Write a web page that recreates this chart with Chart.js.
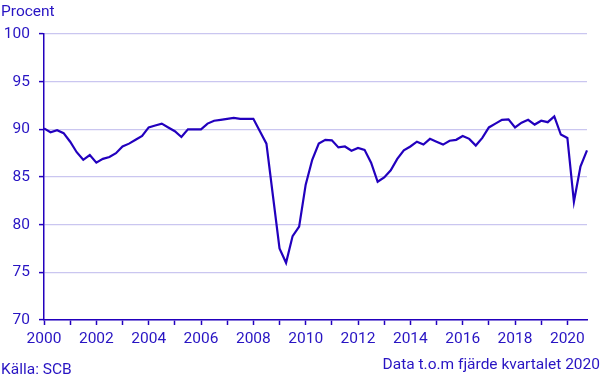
<!DOCTYPE html>
<html>
<head>
<meta charset="utf-8">
<script src="https://cdn.jsdelivr.net/npm/chart.js@4"></script>
<style>
  body { margin: 0; background: #fff; }
</style>
</head>
<body>
<canvas id="chart" width="612" height="378"></canvas>
<script>
// quarterly values, 2000 K1 .. 2020 K4
var firstYear = 2000;
var lastYear = 2020;
var values = [
  90.1, 89.7, 89.9, 89.6, 88.7, 87.6, 86.8, 87.3,
  86.5, 86.9, 87.1, 87.5, 88.2, 88.5, 88.9, 89.3,
  90.2, 90.4, 90.6, 90.2, 89.8, 89.2, 90.0, 90.0,
  90.0, 90.6, 90.9, 91.0, 91.1, 91.2, 91.1, 91.1,
  91.1, 89.8, 88.5, 83.0, 77.5, 76.0, 78.8, 79.8,
  84.2, 86.8, 88.5, 88.9, 88.85, 88.1, 88.2, 87.75,
  88.05, 87.85, 86.5, 84.5, 84.95, 85.7, 86.9, 87.8,
  88.2, 88.7, 88.4, 89.0, 88.7, 88.4, 88.8, 88.9,
  89.3, 89.0, 88.3, 89.1, 90.2, 90.6, 91.0, 91.05,
  90.2, 90.7, 91.0, 90.5, 90.9, 90.75, 91.35, 89.45,
  89.1, 82.4, 86.1, 87.8
];
var yTicks = [70, 75, 80, 85, 90, 95, 100];

var quarters = [];
for (var y = firstYear; y <= lastYear; y++) {
  for (var q = 1; q <= 4; q++) quarters.push(y + 'K' + q);
}

var blue = 'rgb(34,0,190)';
var textBlue = 'rgb(40,20,195)';
var gridCol = 'rgb(202,198,240)';
var font = { family: 'Roboto', size: 15.5 };

var captions = {
  id: 'captions',
  afterDraw: function(chart) {
    var ctx = chart.ctx;
    ctx.save();
    ctx.fillStyle = textBlue;
    ctx.font = '15.5px Roboto';
    ctx.textBaseline = 'alphabetic';
    ctx.textAlign = 'left';
    ctx.fillText('Procent', 1, 16);
    ctx.fillText('Källa: SCB', 1, 374);
    ctx.textAlign = 'right';
    ctx.fillText('Data t.o.m fjärde kvartalet 2020', 600, 369);
    ctx.restore();
  }
};

new Chart(document.getElementById('chart'), {
  type: 'line',
  data: {
    labels: quarters,
    datasets: [{
      data: values,
      borderColor: blue,
      borderWidth: 2.2,
      pointRadius: 0,
      tension: 0,
      fill: false
    }]
  },
  options: {
    responsive: false,
    devicePixelRatio: 1,
    animation: false,
    layout: { padding: { top: 34, left: 0, right: 25, bottom: 28 } },
    plugins: { legend: { display: false }, tooltip: { enabled: false } },
    scales: {
      x: {
        type: 'category',
        offset: false,
        afterBuildTicks: function(scale) {
          scale.ticks = scale.ticks.filter(function(t) { return t.value % 4 === 0; });
        },
        afterFit: function(scale) { scale.height = 30; },
        grid: { drawOnChartArea: false, tickLength: 5, tickColor: blue, tickWidth: 1.5 },
        border: { color: blue, width: 1.5 },
        ticks: {
          autoSkip: false,
          maxRotation: 0,
          padding: 5,
          color: textBlue,
          font: font,
          callback: function(value) {
            var lab = quarters[value];
            var yr = parseInt(lab, 10);
            return yr % 2 === 0 ? String(yr) : '';
          }
        }
      },
      y: {
        min: 70,
        max: 100,
        afterFit: function(scale) { scale.width = 44; },
        afterBuildTicks: function(scale) {
          scale.ticks = yTicks.map(function(v) { return { value: v }; });
        },
        grid: { color: gridCol, lineWidth: 1.2, tickLength: 5, tickColor: blue, tickWidth: 1.5 },
        border: { color: blue, width: 1.5 },
        ticks: { padding: 9, color: textBlue, font: font }
      }
    }
  },
  plugins: [captions]
});
</script>
</body>
</html>
